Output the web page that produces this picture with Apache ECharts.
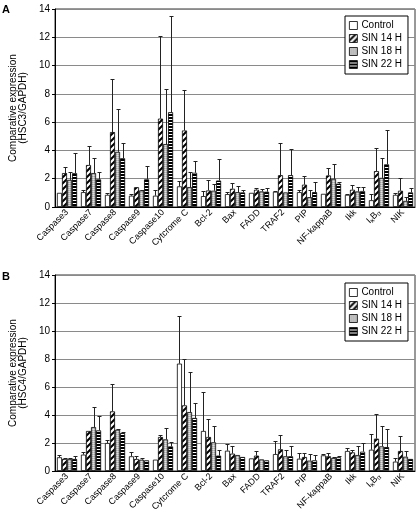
<!DOCTYPE html>
<html><head><meta charset="utf-8">
<script src="https://cdn.jsdelivr.net/npm/echarts@6/dist/echarts.min.js"></script>
<style>html,body{margin:0;padding:0;background:#fff}#c{width:417px;height:520px}</style>
</head><body><div id="c"></div>
<script>
var categories = ['Caspase3','Caspase7','Caspase8','Caspase9','Caspase10','Cytcrome C','Bcl-2','Bax','FADD','TRAF2','PIP','NF-kappaB','Ikk','IκBα','NIK'];
var seriesNames = ['Control','SIN 14 H','SIN 18 H','SIN 22 H'];
var yTicks = [0,2,4,6,8,10,12,14];

// Panel A (HSC3/GAPDH): bar values and upper ends of error bars
var aControl   = [1.0, 1.05, 0.86, 0.8, 0.8, 1.46, 0.77, 0.91, 1.0, 1.08, 1.05, 0.93, 0.86, 0.48, 0.86];
var aControlHi = [1.0, 1.2, 1.0, 0.93, 1.2, 1.87, 1.15, 1.03, 1.0, 1.1, 1.17, 0.93, 0.9, 0.93, 1.0];
var aSin14     = [2.4, 2.97, 5.3, 1.4, 6.25, 5.41, 1.17, 1.29, 1.22, 2.25, 1.58, 2.23, 1.22, 2.54, 1.15];
var aSin14Hi   = [2.85, 4.3, 9.05, 1.4, 12.1, 8.24, 1.94, 1.7, 1.34, 4.55, 2.18, 2.78, 1.58, 4.17, 2.06];
var aSin18     = [1.92, 2.4, 3.9, 1.17, 4.45, 1.41, 1.15, 1.05, 1.1, 1.03, 0.7, 1.99, 1.1, 2.06, 0.43];
var aSin18Hi   = [2.5, 3.5, 6.9, 1.2, 8.35, 2.5, 1.65, 1.5, 1.27, 1.03, 1.17, 3.07, 1.41, 3.45, 0.74];
var aSin22     = [2.4, 1.96, 3.45, 1.96, 6.7, 2.42, 1.87, 1.03, 1.08, 2.25, 1.05, 1.65, 1.13, 3.02, 1.03];
var aSin22Hi   = [3.83, 2.45, 4.5, 2.87, 13.5, 3.26, 3.38, 1.22, 1.32, 4.07, 1.77, 1.77, 1.41, 5.44, 1.34];

// Panel B (HSC4/GAPDH)
var bControl   = [0.98, 1.17, 2.0, 1.05, 0.81, 7.67, 2.86, 1.45, 0.9, 1.21, 0.88, 1.12, 1.43, 1.52, 0.67];
var bControlHi = [1.12, 1.36, 2.19, 1.36, 0.81, 11.07, 5.64, 1.95, 0.9, 2.12, 1.31, 1.19, 1.64, 2.62, 0.95];
var bSin14     = [0.86, 2.86, 4.26, 0.86, 2.43, 4.69, 2.43, 1.24, 1.1, 1.55, 1.0, 1.05, 1.33, 2.31, 1.43];
var bSin14Hi   = [0.9, 2.86, 6.2, 1.1, 2.6, 8.02, 3.74, 1.76, 1.43, 2.55, 1.31, 1.29, 1.52, 4.1, 2.5];
var bSin18     = [0.86, 3.14, 2.95, 0.81, 2.26, 4.21, 2.05, 1.14, 0.83, 1.05, 0.74, 0.93, 1.14, 1.76, 1.02];
var bSin18Hi   = [0.95, 4.6, 3.0, 0.93, 3.1, 7.07, 3.21, 1.14, 0.83, 1.48, 1.19, 1.0, 1.76, 3.21, 1.4];
var bSin22     = [0.86, 2.9, 2.71, 0.76, 1.76, 3.79, 1.1, 1.0, 0.76, 1.05, 0.76, 0.98, 1.38, 1.71, 0.86];
var bSin22Hi   = [1.07, 3.95, 2.79, 0.76, 2.07, 4.88, 1.48, 1.0, 0.76, 1.76, 1.14, 1.05, 2.0, 3.0, 0.86];

function mk(w, h, draw) {
  var c = document.createElement('canvas'); c.width = w; c.height = h;
  var g = c.getContext('2d'); g.fillStyle = '#fff'; g.fillRect(0,0,w,h); draw(g); return c;
}
var hatch = mk(6, 6, function(g){
  g.strokeStyle = '#000'; g.lineWidth = 2;
  g.beginPath(); g.moveTo(-1,7); g.lineTo(7,-1); g.moveTo(-4,4); g.lineTo(4,-4); g.moveTo(2,10); g.lineTo(10,2); g.stroke();
});
var dots = mk(2, 2, function(g){
  g.fillStyle = '#bdbdbd'; g.fillRect(0,0,2,2);
  g.fillStyle = '#9a9a9a'; g.fillRect(0,0,1,1);
  g.fillStyle = '#e0e0e0'; g.fillRect(1,1,1,1);
});
var hstripe = mk(4, 3, function(g){
  g.fillStyle = '#000'; g.fillRect(0,0,4,2);
});
var fills = ['#ffffff', {image: hatch, repeat: 'repeat'}, {image: dots, repeat: 'repeat'}, {image: hstripe, repeat: 'repeat'}];

var panels = [
  {vals: [aControl, aSin14, aSin18, aSin22], his: [aControlHi, aSin14Hi, aSin18Hi, aSin22Hi], yname: 'Comparative expression\n(HSC3/GAPDH)'},
  {vals: [bControl, bSin14, bSin18, bSin22], his: [bControlHi, bSin14Hi, bSin18Hi, bSin22Hi], yname: 'Comparative expression\n(HSC4/GAPDH)'}
];
var FONT = 'Arial, "Liberation Sans", sans-serif';
var grids = [{left: 43, right: 2, top: 9, height: 198}, {left: 43, right: 2, top: 275, height: 196}];
var xAxes = [], yAxes = [], series = [];
panels.forEach(function(p, pi){
  grids[pi].show = true; grids[pi].borderColor = '#333'; grids[pi].borderWidth = 1;
  xAxes.push({type: 'category', gridIndex: pi, data: categories,
    axisLine: {lineStyle: {color: '#000', width: 1}}, axisTick: {show: false},
    axisLabel: {rotate: 45, interval: 0, margin: 4, fontSize: 9, color: '#000', fontFamily: FONT,
      formatter: function(v){ return v === 'IκBα' ? '{n|I}{s|κ}{n|B}{s|α}' : v; },
      rich: {n: {fontSize: 9, fontFamily: FONT, color: '#000'}, s: {fontSize: 6.5, fontFamily: FONT, color: '#000', verticalAlign: 'bottom', padding: [4,0,0,0]}}}
  });
  yAxes.push({type: 'value', gridIndex: pi, min: 0, max: 14, interval: 2,
    name: p.yname, nameLocation: 'middle', nameGap: 26, nameRotate: 90,
    nameTextStyle: {fontSize: 10, color: '#000', fontFamily: FONT, lineHeight: 10},
    axisLine: {show: true, lineStyle: {color: '#000', width: 1}},
    axisTick: {show: true, length: 3, lineStyle: {color: '#000'}},
    axisLabel: {fontSize: 10, color: '#000', fontFamily: FONT, margin: 5,
      formatter: function(v){ return yTicks.indexOf(v) >= 0 ? String(v) : ''; }},
    splitLine: {lineStyle: {color: '#8a8a8a', width: 1}}
  });
  p.vals.forEach(function(arr, si){
    series.push({type: 'bar', name: seriesNames[si], xAxisIndex: pi, yAxisIndex: pi, data: arr,
      barGap: '0%', barCategoryGap: '16%',
      itemStyle: {color: fills[si], borderColor: '#000', borderWidth: 0.8}, emphasis: {disabled: true}, animation: false});
  });
  var ed = [];
  p.vals.forEach(function(arr, si){ arr.forEach(function(v, ci){ ed.push([ci, si, v, p.his[si][ci]]); }); });
  series.push({type: 'custom', xAxisIndex: pi, yAxisIndex: pi, data: ed, z: 5, animation: false,
    encode: {x: 0, y: 3},
    renderItem: function(params, api){
      var ci = api.value(0), si = api.value(1), v = api.value(2), hi = api.value(3);
      if (hi <= v + 0.001) return null;
      var base = api.coord([ci, v]), top = api.coord([ci, hi]);
      var band = api.size([1, 0])[0];
      var bw = band * 0.84 / 4;
      var x = Math.round(base[0] + (si - 1.5) * bw) + 0.5;
      var ty = Math.round(top[1]) + 0.5;
      return {type: 'group', children: [
        {type: 'line', shape: {x1: x, y1: base[1], x2: x, y2: ty}, style: {stroke: '#222', lineWidth: 1}},
        {type: 'line', shape: {x1: x - 2, y1: ty, x2: x + 2, y2: ty}, style: {stroke: '#222', lineWidth: 1}}
      ]};
    }
  });
});

var legendCommon = {orient: 'vertical', data: seriesNames, itemWidth: 8, itemHeight: 8, itemGap: 2,
  padding: [4, 6, 4, 4], borderColor: '#000', borderWidth: 1, backgroundColor: '#fff',
  textStyle: {fontSize: 10, color: '#000', fontFamily: FONT, lineHeight: 11, padding: [0,0,0,-1]},
  icon: 'rect', selectedMode: false, itemStyle: {borderColor: '#000', borderWidth: 0.8}};
var legends = [Object.assign({left: 345, top: 16}, legendCommon), Object.assign({left: 345, top: 283}, legendCommon)];

var chart = echarts.init(document.getElementById('c'), null, {renderer: 'canvas'});
chart.setOption({
  animation: false,
  grid: grids, xAxis: xAxes, yAxis: yAxes, series: series, legend: legends,
  graphic: [
    {type: 'text', left: 2, top: 4, style: {text: 'A', font: 'bold 11px ' + FONT, fill: '#000'}},
    {type: 'text', left: 2, top: 271, style: {text: 'B', font: 'bold 11px ' + FONT, fill: '#000'}}
  ]
});
</script></body></html>
